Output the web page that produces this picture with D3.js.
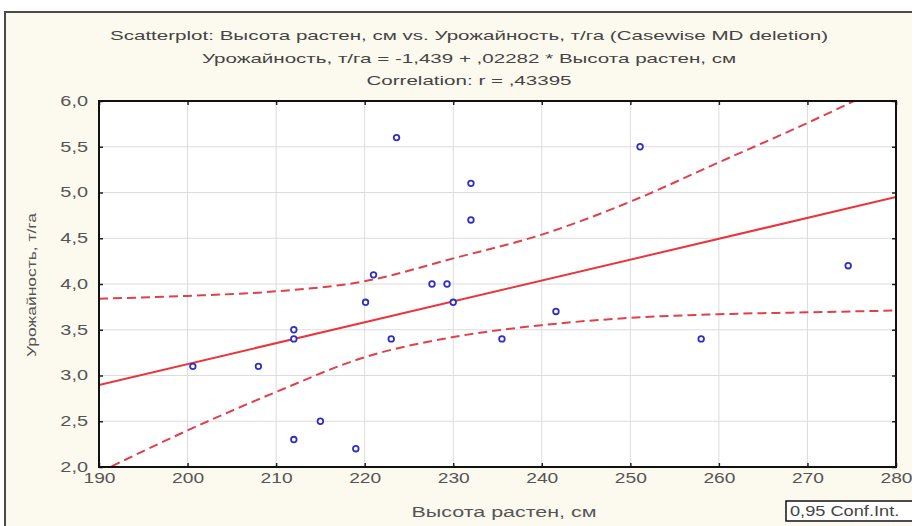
<!DOCTYPE html>
<html>
<head>
<meta charset="utf-8">
<script src="https://cdn.jsdelivr.net/npm/d3@7"></script>
<style>
  body { margin: 0; background: #ffffff; }
  text { font-family: "Liberation Sans", Arial, sans-serif; }
</style>
</head>
<body>
<div id="chart"></div>
<script>
// data
var heights = [200.6, 208, 212, 212, 212, 215, 219, 220.1, 221, 223.6, 223, 227.6, 229.3, 230, 232, 232, 235.5, 241.6, 251.1, 258, 274.6];
var yields = [3.1, 3.1, 3.5, 3.4, 2.3, 2.5, 2.2, 3.8, 4.1, 5.6, 3.4, 4.0, 4.0, 3.8, 5.1, 4.7, 3.4, 3.7, 5.5, 3.4, 4.2];

// fitted line from the title
var intercept = -1.439;
var slope = 0.02282;

// confidence band, read at each 10 cm
var bandX = [190, 200, 210, 220, 230, 240, 250, 260, 270, 280];
var bandUpper = [3.84, 3.87, 3.92, 4.03, 4.28, 4.54, 4.9, 5.33, 5.76, 6.22];
var bandLower = [1.94, 2.4, 2.82, 3.2, 3.42, 3.55, 3.63, 3.67, 3.69, 3.71];

var xTicks = [190, 200, 210, 220, 230, 240, 250, 260, 270, 280];
var yTicks = [2.0, 2.5, 3.0, 3.5, 4.0, 4.5, 5.0, 5.5, 6.0];

var titleLines = [
  "Scatterplot: Высота растен, см vs. Урожайность, т/га (Casewise MD deletion)",
  "Урожайность, т/га = -1,439 + ,02282 * Высота растен, см",
  "Correlation: r = ,43395"
];

var W = 912, H = 526;
var plot = { left: 99, right: 896, top: 101, bottom: 467 };

var svg = d3.select("#chart").append("svg")
  .attr("width", W)
  .attr("height", H);

// the picture's text is stretched sideways, so widen each label
function stretch(sel, k) {
  sel.each(function () {
    var w = this.getComputedTextLength();
    d3.select(this).attr("textLength", w * k).attr("lengthAdjust", "spacingAndGlyphs");
  });
}

// outer frame
svg.append("rect")
  .attr("x", 5).attr("y", 12)
  .attr("width", 912).attr("height", 530)
  .attr("fill", "#fcf9ee")
  .attr("stroke", "#4a4a4a")
  .attr("stroke-width", 2);

var x = d3.scaleLinear().domain([190, 280]).range([plot.left, plot.right]);
var y = d3.scaleLinear().domain([2, 6]).range([plot.bottom, plot.top]);
var fmt = function (d) { return d3.format(".1f")(d).replace(".", ","); };

svg.append("rect")
  .attr("x", plot.left).attr("y", plot.top)
  .attr("width", plot.right - plot.left)
  .attr("height", plot.bottom - plot.top)
  .attr("fill", "#ffffff");

// grid
svg.append("g").selectAll("line").data(xTicks.slice(1, -1)).enter().append("line")
  .attr("x1", (d) => x(d)).attr("x2", (d) => x(d))
  .attr("y1", plot.top).attr("y2", plot.bottom)
  .attr("stroke", "#dcdcdc").attr("stroke-width", 1);
svg.append("g").selectAll("line").data(yTicks.slice(1, -1)).enter().append("line")
  .attr("x1", plot.left).attr("x2", plot.right)
  .attr("y1", (d) => y(d)).attr("y2", (d) => y(d))
  .attr("stroke", "#dcdcdc").attr("stroke-width", 1);

// axes with inward ticks
var bottomAxis = svg.append("g")
  .attr("transform", "translate(0," + plot.bottom + ")")
  .call(d3.axisBottom(x).tickValues(xTicks).tickSize(-4).tickPadding(10).tickFormat(d3.format("d")));
var topAxis = svg.append("g")
  .attr("transform", "translate(0," + plot.top + ")")
  .call(d3.axisTop(x).tickValues(xTicks).tickSize(-4).tickFormat(""));
var leftAxis = svg.append("g")
  .attr("transform", "translate(" + plot.left + ",0)")
  .call(d3.axisLeft(y).tickValues(yTicks).tickSize(-4).tickPadding(11).tickFormat(fmt));
var rightAxis = svg.append("g")
  .attr("transform", "translate(" + plot.right + ",0)")
  .call(d3.axisRight(y).tickValues(yTicks).tickSize(-4).tickFormat(""));

[bottomAxis, topAxis, leftAxis, rightAxis].forEach(function (g) {
  g.select(".domain").remove();
  g.selectAll(".tick line").attr("stroke", "#222").attr("stroke-width", 1.5);
  g.selectAll(".tick text").attr("fill", "#555").style("font-size", "14px");
});
bottomAxis.selectAll(".tick text").attr("dy", "0.45em");
stretch(bottomAxis.selectAll(".tick text"), 1.37);
stretch(leftAxis.selectAll(".tick text"), 1.42);

// clip to the plot
svg.append("clipPath").attr("id", "clip").append("rect")
  .attr("x", plot.left).attr("y", plot.top)
  .attr("width", plot.right - plot.left)
  .attr("height", plot.bottom - plot.top);
var inner = svg.append("g").attr("clip-path", "url(#clip)");

// regression line
inner.append("line")
  .attr("x1", x(190)).attr("y1", y(intercept + slope * 190))
  .attr("x2", x(280)).attr("y2", y(intercept + slope * 280))
  .attr("stroke", "#e8363e").attr("stroke-width", 2);

var bandLine = function (vals) {
  return d3.line()
    .x((d, i) => x(bandX[i]))
    .y((d) => y(d))
    .curve(d3.curveMonotoneX)(vals);
};
[bandUpper, bandLower].forEach(function (vals) {
  inner.append("path")
    .attr("d", bandLine(vals))
    .attr("fill", "none")
    .attr("stroke", "#e0404a")
    .attr("stroke-width", 2)
    .attr("stroke-dasharray", "9,5");
});

// points
inner.selectAll("circle").data(heights).enter().append("circle")
  .attr("cx", (d) => x(d))
  .attr("cy", (d, i) => y(yields[i]))
  .attr("r", 2.8)
  .attr("fill", "#ffffff")
  .attr("stroke", "#2f2fc8")
  .attr("stroke-width", 1.8);

// plot border
svg.append("rect")
  .attr("x", plot.left).attr("y", plot.top)
  .attr("width", plot.right - plot.left)
  .attr("height", plot.bottom - plot.top)
  .attr("fill", "none")
  .attr("stroke", "#111")
  .attr("stroke-width", 2);

// titles
var titles = svg.append("g").selectAll("text").data(titleLines).enter().append("text")
  .attr("x", 469)
  .attr("y", (d, i) => 40 + i * 22.5)
  .attr("text-anchor", "middle")
  .attr("fill", "#444")
  .style("font-size", "13px")
  .text((d) => d);
var t0 = titles.node().getComputedTextLength();
stretch(titles, 718 / t0);

var xLabel = svg.append("text")
  .attr("x", 504).attr("y", 517)
  .attr("text-anchor", "middle")
  .attr("fill", "#555")
  .style("font-size", "14px")
  .text("Высота растен, см");
stretch(xLabel, 185 / xLabel.node().getComputedTextLength());

var yLabel = svg.append("text")
  .attr("transform", "translate(36,285) rotate(-90)")
  .attr("text-anchor", "middle")
  .attr("fill", "#555")
  .style("font-size", "13px")
  .text("Урожайность, т/га");
stretch(yLabel, 144 / yLabel.node().getComputedTextLength());

// legend box
svg.append("rect")
  .attr("x", 786).attr("y", 501)
  .attr("width", 130).attr("height", 20)
  .attr("fill", "#ffffff")
  .attr("stroke", "#111")
  .attr("stroke-width", 1.5);
var legendText = svg.append("text")
  .attr("x", 790).attr("y", 516)
  .attr("fill", "#444")
  .style("font-size", "14px")
  .text("0,95 Conf.Int.");
stretch(legendText, 1.3);
</script>
</body>
</html>
